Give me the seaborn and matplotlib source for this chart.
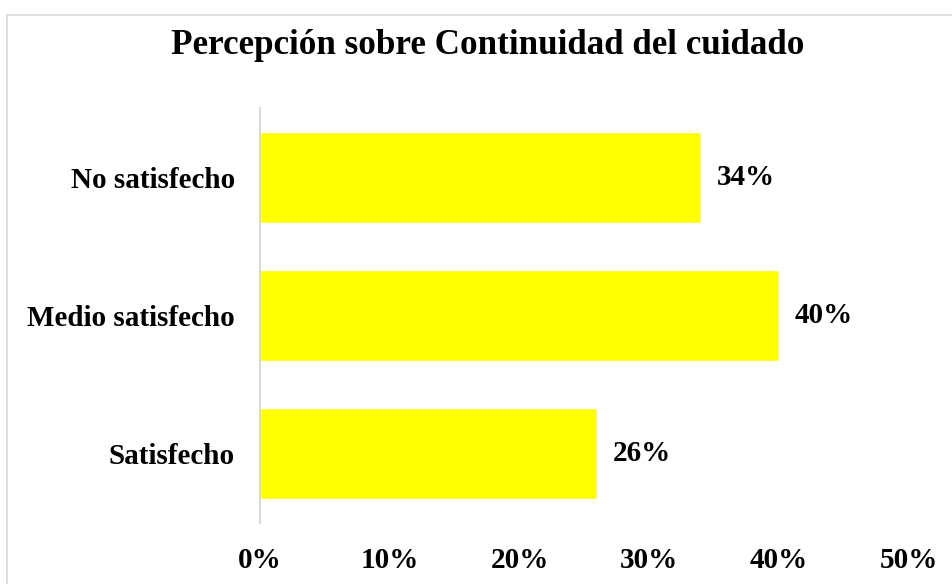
import matplotlib
matplotlib.use("Agg")
import matplotlib.pyplot as plt
import seaborn as sns
import pandas as pd
from matplotlib.patches import Rectangle

categories = ["No satisfecho", "Medio satisfecho", "Satisfecho"]
values = [0.34, 0.40, 0.26]
value_labels = ["34%", "40%", "26%"]
xticks = [0, 0.1, 0.2, 0.3, 0.4, 0.5]
xtick_labels = ["0%", "10%", "20%", "30%", "40%", "50%"]
title = "Percepción sobre Continuidad del cuidado"

sns.set_theme(style="white")
plt.rcParams['font.family'] = ['Liberation Serif', 'DejaVu Serif']
plt.rcParams['text.color'] = 'black'
plt.rcParams['xtick.color'] = 'black'
plt.rcParams['ytick.color'] = 'black'

W, H = 953, 584
fig = plt.figure(figsize=(W / 100, H / 100), dpi=100)
ax = fig.add_axes([260 / W, 1 - 523 / H, (909 - 260) / W, (523 - 108) / H])

df = pd.DataFrame({"cat": categories, "val": values})
sns.barplot(data=df, x="val", y="cat", orient="h", color="#FFFF00",
            saturation=1, width=0.66, ax=ax)

ax.set_xlim(0, 0.5)
ax.set_ylim(2.5, -0.5)
ax.set_xlabel("")
ax.set_ylabel("")
ax.set_xticks(xticks)
ax.set_xticklabels(xtick_labels, fontsize=21, fontweight="bold", color="black")
ax.tick_params(axis="x", length=0, pad=17)
ax.tick_params(axis="y", length=0, pad=18, labelsize=21)
for lbl in ax.get_yticklabels():
    lbl.set_fontweight("bold")
    lbl.set_color("black")
for s in ["top", "right", "bottom"]:
    ax.spines[s].set_visible(False)
ax.spines["left"].set_color("#d9d9d9")
ax.spines["left"].set_linewidth(1.5)

for c in ax.containers:
    ax.bar_label(c, labels=value_labels, padding=11, fontsize=21, fontweight="bold", color="black")

fig.text(488 / W, 1 - 46 / H, title, ha="center", va="center", fontsize=25.2, fontweight="bold", color="black")

fig.patches.append(Rectangle((7 / W, -0.1), 1.2, 1 - 15 / H + 0.1, transform=fig.transFigure,
                             fill=False, edgecolor="#d9d9d9", linewidth=1.2, zorder=0))

fig.savefig("out.png", dpi=100)
